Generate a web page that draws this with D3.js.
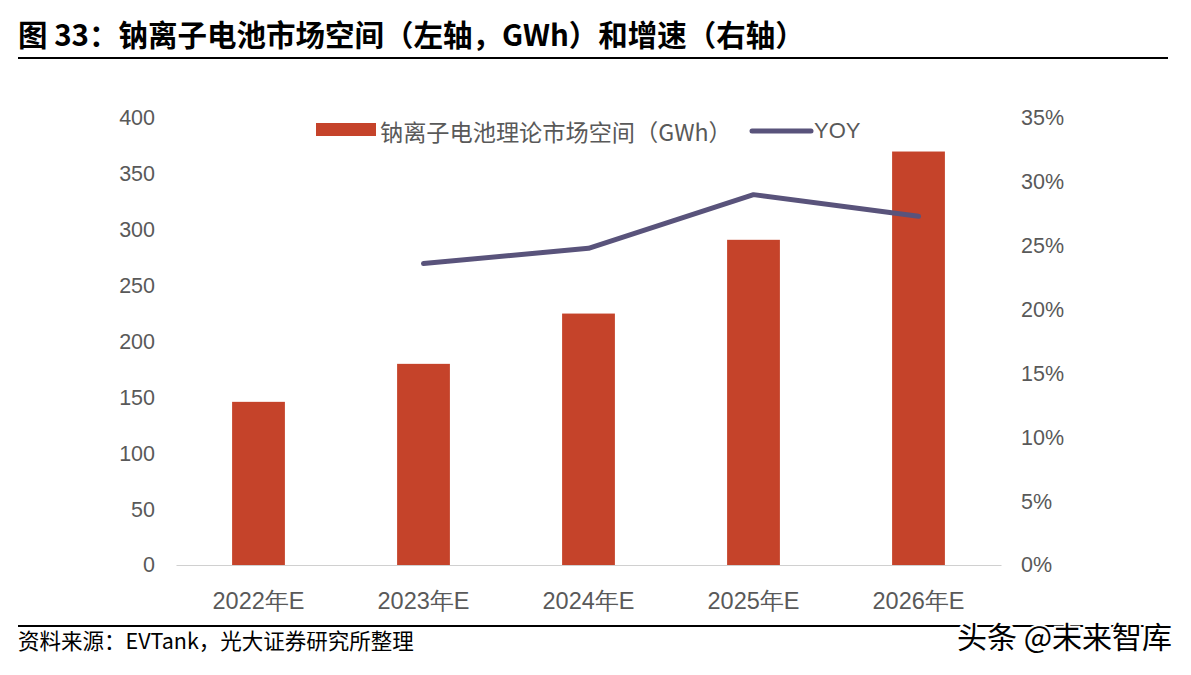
<!DOCTYPE html>
<html><head><meta charset="utf-8">
<script src="https://cdn.jsdelivr.net/npm/d3@7"></script>
<style>body{margin:0;background:#fff}</style>
</head><body>
<script>
const categories = ["2022年E","2023年E","2024年E","2025年E","2026年E"];
const capacity = [146, 180, 225, 291, 370];
const yoy = [null, 0.236, 0.248, 0.290, 0.273];
const leftTicks = [0,50,100,150,200,250,300,350,400];
const rightTicks = [0,0.05,0.10,0.15,0.20,0.25,0.30,0.35];

const W=1191,H=675;
const svg=d3.select("body").append("svg").attr("width",W).attr("height",H);
const cjk="'Noto Sans CJK SC','Noto Sans',sans-serif";
const lat="'Liberation Sans',Arial,sans-serif";

// title
svg.append("text").attr("x",18).attr("y",46).attr("font-family",cjk).attr("font-weight",700)
 .attr("font-size",29.5).attr("fill","#000").text("图 33：钠离子电池市场空间（左轴，GWh）和增速（右轴）");
svg.append("line").attr("x1",18).attr("x2",1168).attr("y1",58).attr("y2",58).attr("stroke","#000").attr("stroke-width",2);

const x=d3.scaleBand().domain(categories).range([176,1001]).paddingInner(0.68).paddingOuter(0.34);
const yL=d3.scaleLinear().domain([0,400]).range([565,118]);
const yR=d3.scaleLinear().domain([0,0.35]).range([565,118]);

// axes
const gl=svg.append("g").attr("transform","translate(155,0)")
 .call(d3.axisLeft(yL).tickValues(leftTicks).tickSize(0).tickPadding(0));
gl.select(".domain").remove();
gl.selectAll("text").attr("font-family",lat).attr("font-size",21.5).attr("fill","#595959");

const gr=svg.append("g").attr("transform","translate(1021,0)")
 .call(d3.axisRight(yR).tickValues(rightTicks).tickSize(0).tickPadding(0).tickFormat(d3.format(".0%")));
gr.select(".domain").remove();
gr.selectAll("text").attr("font-family",lat).attr("font-size",21.5).attr("fill","#595959");

// bars
svg.selectAll("rect.bar").data(capacity).join("rect").attr("class","bar")
 .attr("x",(d,i)=>x(categories[i])).attr("width",x.bandwidth())
 .attr("y",d=>yL(d)).attr("height",d=>yL(0)-yL(d)).attr("fill","#C5432A");

// x axis
const gx=svg.append("g").attr("transform","translate(0,565)")
 .call(d3.axisBottom(x).tickSize(0).tickPadding(27));
gx.select(".domain").attr("stroke","#d0d0d0").attr("stroke-width",1.2);
gx.selectAll("text").attr("font-family",lat).attr("font-size",23.5).attr("fill","#595959");

// line
const pts=categories.map((c,i)=>({c,v:yoy[i]})).filter(d=>d.v!=null);
svg.append("path").datum(pts)
 .attr("d",d3.line().x(d=>x(d.c)+x.bandwidth()/2).y(d=>yR(d.v)))
 .attr("fill","none").attr("stroke","#59537B").attr("stroke-width",5).attr("stroke-linecap","round").attr("stroke-linejoin","round");

// legend
svg.append("rect").attr("x",316).attr("y",123).attr("width",60).attr("height",13).attr("fill","#C5432A");
svg.append("text").attr("x",380).attr("y",141).attr("font-family",cjk).attr("font-size",23.2).attr("fill","#595959")
 .text("钠离子电池理论市场空间（GWh）");
svg.append("line").attr("x1",752).attr("x2",811).attr("y1",131).attr("y2",131).attr("stroke","#59537B").attr("stroke-width",5).attr("stroke-linecap","round");
svg.append("text").attr("x",814).attr("y",138).attr("font-family",lat).attr("font-size",22).attr("fill","#595959").text("YOY");

// footer
svg.append("line").attr("x1",18).attr("x2",1168).attr("y1",626).attr("y2",626).attr("stroke","#000").attr("stroke-width",2);
svg.append("text").attr("x",18).attr("y",649).attr("font-family",cjk).attr("font-size",21.5).attr("font-weight",400).attr("fill","#000")
 .text("资料来源：EVTank，光大证券研究所整理");
svg.append("text").attr("x",957).attr("y",648).attr("font-family",cjk).attr("font-size",30).attr("fill","#000")
 .attr("stroke","#fff").attr("stroke-width",4).attr("paint-order","stroke").text("头条 @未来智库");
</script>
</body></html>
